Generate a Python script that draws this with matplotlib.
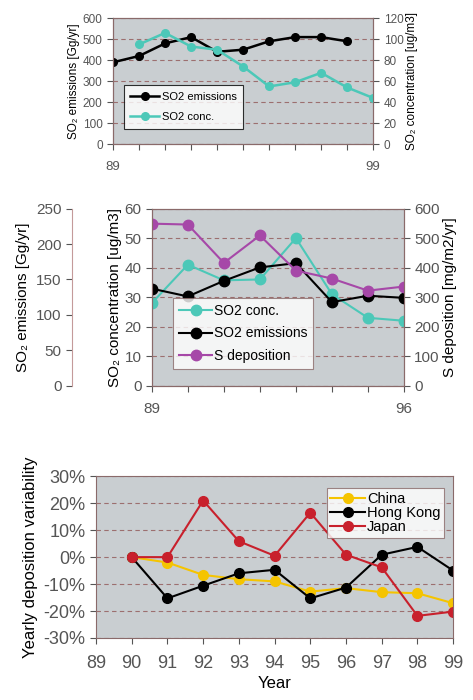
import numpy as np
import matplotlib
matplotlib.use("Agg")
import matplotlib.pyplot as plt

# top panel: 89-99
top_years = [89, 90, 91, 92, 93, 94, 95, 96, 97, 98, 99]
top_emis = [390, 420, 480, 510, 440, 450, 490, 510, 510, 490, np.nan]     # Gg/yr
top_conc = [np.nan, 95, 106, 93, 90, 74, 55, 59, 68, 54, 44]              # ug/m3

# middle panel: 89-96
mid_years = [89, 90, 91, 92, 93, 94, 95, 96]
mid_conc = [28, 41, 35.7, 36, 50, 31, 23, 22]              # ug/m3
mid_emis = [137, 126, 148, 167, 173, 118, 127, 124]        # Gg/yr
mid_dep = [549, 546, 416, 509, 390, 363, 322, 336]         # mg/m2/yr

# bottom panel: yearly deposition variability (%)
bot_years = [90, 91, 92, 93, 94, 95, 96, 97, 98, 99]
china = [0, -2, -6.6, -8.2, -9, -12.8, -11.5, -13, -13.4, -17.1]
hong_kong = [0, -15.3, -10.6, -6, -4.7, -15.3, -11.3, 0.9, 3.8, -5]
japan = [0, 0, 21, 5.9, 0.5, 16.5, 0.9, -3.8, -21.8, -20.2]

BG = "#c9ced1"
GRID = "#9c6f6f"
SPINE = "#8a6a6a"
CYAN = "#4cc8b8"
MAG = "#a648a8"
YEL = "#f5c400"
RED = "#c8202c"

NARROW = ["Liberation Sans Narrow", "Liberation Sans", "DejaVu Sans"]
SANS = ["Liberation Sans", "DejaVu Sans"]


def style_ax(ax):
    ax.set_facecolor(BG)
    for s in ax.spines.values():
        s.set_color(SPINE)
    ax.tick_params(colors="#555555", length=4)


fig = plt.figure(figsize=(4.73, 7.0), dpi=100)

# ---------- top ----------
ax1 = fig.add_axes([0.239, 0.794, 0.550, 0.180])
style_ax(ax1)
ax1.set_xlim(89, 99)
ax1.set_ylim(0, 600)
ax1.set_yticks(range(0, 601, 100))
ax1.set_xticks(top_years)
ax1.set_xticklabels(["89"] + [""] * 9 + ["99"], family=NARROW, fontsize=9.5)
ax1.tick_params(axis="x", pad=8)
for lab in ax1.get_yticklabels():
    lab.set_family(NARROW); lab.set_fontsize(8.5)
ax1.grid(axis="y", color=GRID, linestyle=(0, (4, 3)), linewidth=0.8)
ax1.set_axisbelow(True)
l1, = ax1.plot(top_years, top_emis, "-o", color="black", lw=1.8, ms=5.5, label="SO2 emissions")
ax1.set_ylabel("SO₂ emissions [Gg/yr]", family=NARROW, fontsize=8.5, labelpad=2)
ax1b = ax1.twinx()
ax1b.set_ylim(0, 120)
ax1b.set_yticks(range(0, 121, 20))
for lab in ax1b.get_yticklabels():
    lab.set_family(NARROW); lab.set_fontsize(8.5)
ax1b.tick_params(colors="#555555", length=4)
for s in ax1b.spines.values():
    s.set_color(SPINE)
l2, = ax1b.plot(top_years, top_conc, "-o", color=CYAN, lw=1.8, ms=5.5, label="SO2 conc.")
ax1b.set_ylabel("SO₂ concentration [ug/m3]", family=NARROW, fontsize=8.5, labelpad=2)
leg = ax1.legend(handles=[l1, l2], loc="lower left", bbox_to_anchor=(0.02, 0.08),
                 prop={"family": NARROW, "size": 8}, frameon=True, fancybox=False,
                 handlelength=2.6, handletextpad=0.2, borderpad=0.6, labelspacing=0.9)
leg.get_frame().set_edgecolor("black")
leg.get_frame().set_linewidth(0.8)

# ---------- middle ----------
ax2 = fig.add_axes([0.321, 0.449, 0.533, 0.253])
style_ax(ax2)
ax2.set_xlim(89, 96)
ax2.set_ylim(0, 60)
ax2.set_xticks(mid_years)
ax2.set_xticklabels(["89"] + [""] * 6 + ["96"], family=SANS, fontsize=11)
ax2.tick_params(axis="x", pad=8)
for lab in ax2.get_yticklabels():
    lab.set_family(SANS); lab.set_fontsize(11)
ax2.grid(axis="y", color=GRID, linestyle=(0, (4, 3)), linewidth=0.8)
ax2.set_axisbelow(True)
ax2.set_ylabel("SO₂ concentration [ug/m3]", family=SANS, fontsize=11, labelpad=2)
m1, = ax2.plot(mid_years, mid_conc, "-o", color=CYAN, lw=1.5, ms=7.5, label="SO2 conc.")

ax2e = ax2.twinx()
ax2e.set_ylim(0, 250)
ax2e.spines["left"].set_position(("axes", -0.317))
ax2e.spines["left"].set_visible(True)
ax2e.spines["left"].set_color("#c49a9a")
ax2e.spines["right"].set_visible(False)
ax2e.spines["top"].set_visible(False)
ax2e.spines["bottom"].set_visible(False)
ax2e.yaxis.set_label_position("left")
ax2e.yaxis.tick_left()
ax2e.set_yticks(range(0, 251, 50))
ax2e.tick_params(colors="#555555", length=4)
for lab in ax2e.get_yticklabels():
    lab.set_family(SANS); lab.set_fontsize(11)
ax2e.set_ylabel("SO₂ emissions [Gg/yr]", family=SANS, fontsize=11, labelpad=4)
m2, = ax2e.plot(mid_years, mid_emis, "-o", color="black", lw=1.5, ms=7.5, label="SO2 emissions")

ax2d = ax2.twinx()
ax2d.set_ylim(0, 600)
ax2d.set_yticks(range(0, 601, 100))
ax2d.tick_params(colors="#555555", length=4)
for s in ax2d.spines.values():
    s.set_color(SPINE)
for lab in ax2d.get_yticklabels():
    lab.set_family(SANS); lab.set_fontsize(11)
ax2d.set_ylabel("S deposition [mg/m2/yr]", family=SANS, fontsize=11, labelpad=2)
m3, = ax2d.plot(mid_years, mid_dep, "-o", color=MAG, lw=1.5, ms=7.5, label="S deposition")
leg = ax2d.legend(handles=[m1, m2, m3], loc="lower left", bbox_to_anchor=(0.055, 0.055),
                  prop={"family": SANS, "size": 10}, frameon=True, fancybox=False,
                  handlelength=2.4, handletextpad=0.1, borderpad=0.45, labelspacing=0.6)
leg.get_frame().set_edgecolor(SPINE)
leg.get_frame().set_linewidth(0.8)

# ---------- bottom ----------
ax3 = fig.add_axes([0.203, 0.0886, 0.755, 0.231])
style_ax(ax3)
ax3.set_xlim(89, 99)
ax3.set_ylim(-30, 30)
ax3.set_xticks(range(89, 100))
ax3.set_xticklabels([str(y) for y in range(89, 100)], family=SANS, fontsize=13)
ax3.tick_params(axis="x", pad=8)
ax3.set_yticks(range(-30, 31, 10))
ax3.set_yticklabels([f"{v}%" for v in range(-30, 31, 10)], family=SANS, fontsize=13)
ax3.grid(axis="y", color=GRID, linestyle=(0, (4, 3)), linewidth=0.8)
ax3.set_axisbelow(True)
ax3.plot(bot_years, china, "-o", color=YEL, lw=1.5, ms=7, label="China")
ax3.plot(bot_years, hong_kong, "-o", color="black", lw=1.5, ms=7, label="Hong Kong")
ax3.plot(bot_years, japan, "-o", color=RED, lw=1.5, ms=7, label="Japan")
ax3.set_xlabel("Year", family=SANS, fontsize=12, labelpad=3)
ax3.set_ylabel("Yearly deposition variability", family=SANS, fontsize=12, labelpad=4)
leg = ax3.legend(loc="upper right", bbox_to_anchor=(0.995, 0.97),
                 prop={"family": SANS, "size": 10.5}, frameon=True, fancybox=False,
                 handlelength=2.4, handletextpad=0.1, borderpad=0.25, labelspacing=0.0)
leg.get_frame().set_edgecolor(SPINE)
leg.get_frame().set_linewidth(0.8)

fig.savefig("out.png", dpi=100, facecolor="white")
